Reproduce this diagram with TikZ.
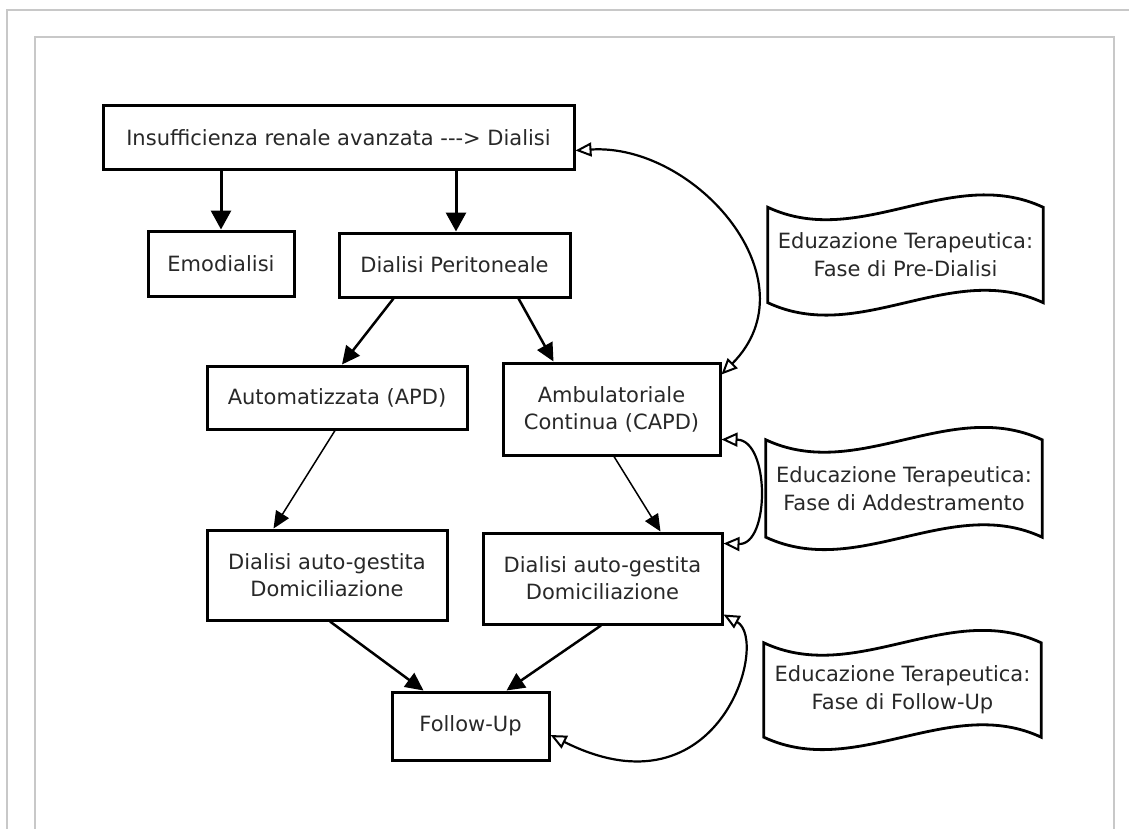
\documentclass[tikz,border=0pt]{standalone}
\usepackage{fontspec}
\setmainfont{DejaVu Sans}
\usetikzlibrary{arrows.meta,calc}
\definecolor{framegray}{RGB}{200,200,200}
\definecolor{txt}{RGB}{40,40,40}
\newcommand\wavydoc[1]{%
  \draw[docline] (#1.north west)
    .. controls ($(#1.north west)+(92,43)$) and ($(#1.north east)+(-92,-43)$) .. (#1.north east)
    -- (#1.south east)
    .. controls ($(#1.south east)+(-92,-43)$) and ($(#1.south west)+(92,43)$) .. (#1.south west)
    -- cycle;}
\begin{document}
\begin{tikzpicture}[x=1pt,y=-1pt,
  box/.style={draw, line width=3pt, align=center, inner sep=0pt,
    font=\fontsize{21}{27}\selectfont, text=txt},
  doc/.style={align=center, inner sep=0pt,
    font=\fontsize{21}{28}\selectfont, text=txt},
  docline/.style={line width=2.8pt, line join=miter},
  bigarr/.style={line width=3pt, -{Triangle[length=19pt,width=20pt]}},
  medarr/.style={line width=2.5pt, -{Triangle[length=18pt,width=17pt]}},
  thinarr/.style={line width=1.5pt, -{Triangle[length=17pt,width=15pt]}},
  openarr/.style={line width=2.2pt,
    {Triangle[open,length=16pt,width=14pt,line width=2pt]}-{Triangle[open,length=16pt,width=14pt,line width=2pt]}}
  ]
\useasboundingbox (0,0) rectangle (1129,829);
\fill[white] (0,0) rectangle (1129,829);
% frames
\draw[framegray, line width=2pt] (7,829) -- (7,10) -- (1129,10);
\draw[framegray, line width=1.5pt] (35,829) -- (35,37) -- (1114,37) -- (1114,829);

% nodes
\node[box, minimum width=471pt, minimum height=64pt] (top) at (338.5,138) {Insufficienza renale avanzata {-}{-}{-}> Dialisi};
\node[box, minimum width=146pt, minimum height=65pt] (emo) at (221,263.5) {Emodialisi};
\node[box, minimum width=231pt, minimum height=64pt] (dp) at (454.5,265) {Dialisi Peritoneale};
\node[box, minimum width=260pt, minimum height=63pt] (apd) at (337,397.5) {Automatizzata (APD)};
\node[box, minimum width=217pt, minimum height=92pt] (capd) at (611.5,409) {Ambulatoriale\\Continua (CAPD)};
\node[box, minimum width=240pt, minimum height=90pt] (dagl) at (327,575) {Dialisi auto-gestita\\Domiciliazione};
\node[box, minimum width=239pt, minimum height=91pt] (dagr) at (602.5,578.5) {Dialisi auto-gestita\\Domiciliazione};
\node[box, minimum width=157pt, minimum height=68pt] (fu) at (470.5,726) {Follow-Up};

\node[doc, minimum width=275pt, minimum height=95pt] (d1) at (905.5,255) {Eduzazione Terapeutica:\\Fase di Pre-Dialisi};
\node[doc, minimum width=276pt, minimum height=97pt] (d2) at (904,488.5) {Educazione Terapeutica:\\Fase di Addestramento};
\node[doc, minimum width=277pt, minimum height=94pt] (d3) at (902.5,690) {Educazione Terapeutica:\\Fase di Follow-Up};
\wavydoc{d1}
\wavydoc{d2}
\wavydoc{d3}

% straight connectors
\draw[bigarr] (emo.north |- top.south) -- (emo.north);
\draw[bigarr] ([xshift=1.5pt]dp.north |- top.south) -- ([xshift=1.5pt]dp.north);
\draw[medarr] ([xshift=56pt]dp.south west) -- ([xshift=5pt]apd.north);
\draw[medarr] ([xshift=-53pt]dp.south east) -- ([xshift=-58pt]capd.north);
\draw[thinarr] ([xshift=-2pt]apd.south) -- ([xshift=68pt]dagl.north west);
\draw[thinarr] ([xshift=2.5pt]capd.south) -- ([xshift=-63pt]dagr.north east);
\draw[medarr] ([xshift=3pt]dagl.south) -- ([xshift=33pt]fu.north west);
\draw[medarr] ([xshift=-1.5pt]dagr.south) -- ([xshift=-44pt]fu.north east);

% curved connectors
\draw[openarr] ([yshift=-46pt]top.north east) .. controls (695,143) and (815,280) .. ([yshift=-13pt]capd.north east);
\draw[openarr] ([yshift=17pt]capd.south east) .. controls (770,440) and (770,545) .. ([yshift=-12pt]dagr.north east);
\draw[openarr] ([yshift=11pt]dagr.south east) .. controls (770,640) and (720,820) .. ([yshift=-9pt]fu.east);
\end{tikzpicture}
\end{document}
